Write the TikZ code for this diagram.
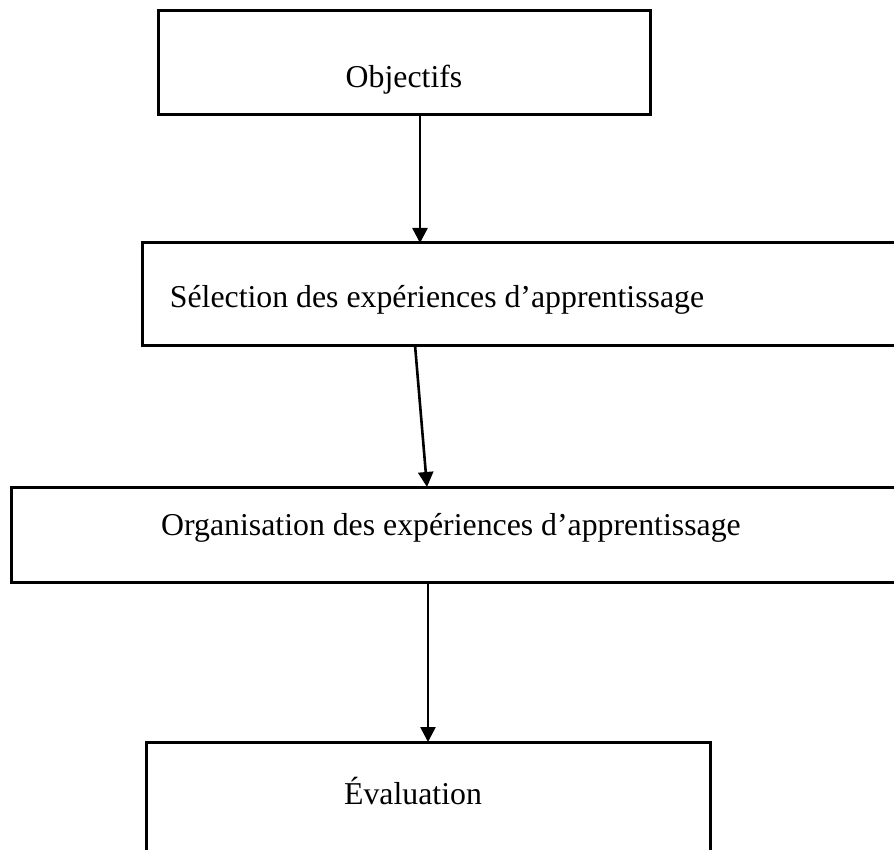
\documentclass[tikz,border=0pt]{standalone}
\usepackage{fontspec}
\setmainfont{Liberation Serif}
\usetikzlibrary{arrows.meta}
\begin{document}
\begin{tikzpicture}[x=0.5pt,y=-0.5pt,
  stagebox/.style={draw=black,line width=1.5pt,rectangle,inner sep=0pt,outer sep=0pt},
  stagetext/.style={anchor=base,inner sep=0pt,font=\fontsize{15.9}{19}\selectfont},
  flow/.style={draw=black,line width=1.3pt,-{Triangle[length=7.5pt,width=7.5pt]}}]
  \useasboundingbox (0,0) rectangle (894,850);
  \clip (0,0) rectangle (894,850);

  % stage boxes
  \node[stagebox,minimum width=246pt,minimum height=52pt] (obj) at (404,63) {};
  \node[stagebox,minimum width=377.5pt,minimum height=51pt] (sel) at (520,294) {};
  \node[stagebox,minimum width=444.5pt,minimum height=47.5pt] (org) at (455.5,534.5) {};
  \node[stagebox,minimum width=282pt,minimum height=59pt] (eva) at (428,801) {};

  % stage labels
  \node[stagetext] (objt) at (404,88) {Objectifs};
  \node[stagetext] (selt) at (437,307) {Sélection des expériences d’apprentissage};
  \node[stagetext] (orgt) at (451,535) {Organisation des expériences d’apprentissage};
  \node[stagetext] (evat) at (413,804) {Évaluation};

  % connector columns
  \coordinate (c1) at (420,0);
  \coordinate (c2a) at (415,0);
  \coordinate (c2b) at (427,0);
  \coordinate (c3) at (428,0);

  \draw[flow] (obj.south -| c1) -- (sel.north -| c1);
  \draw[flow] (sel.south -| c2a) -- (org.north -| c2b);
  \draw[flow] (org.south -| c3) -- (eva.north -| c3);
\end{tikzpicture}
\end{document}
